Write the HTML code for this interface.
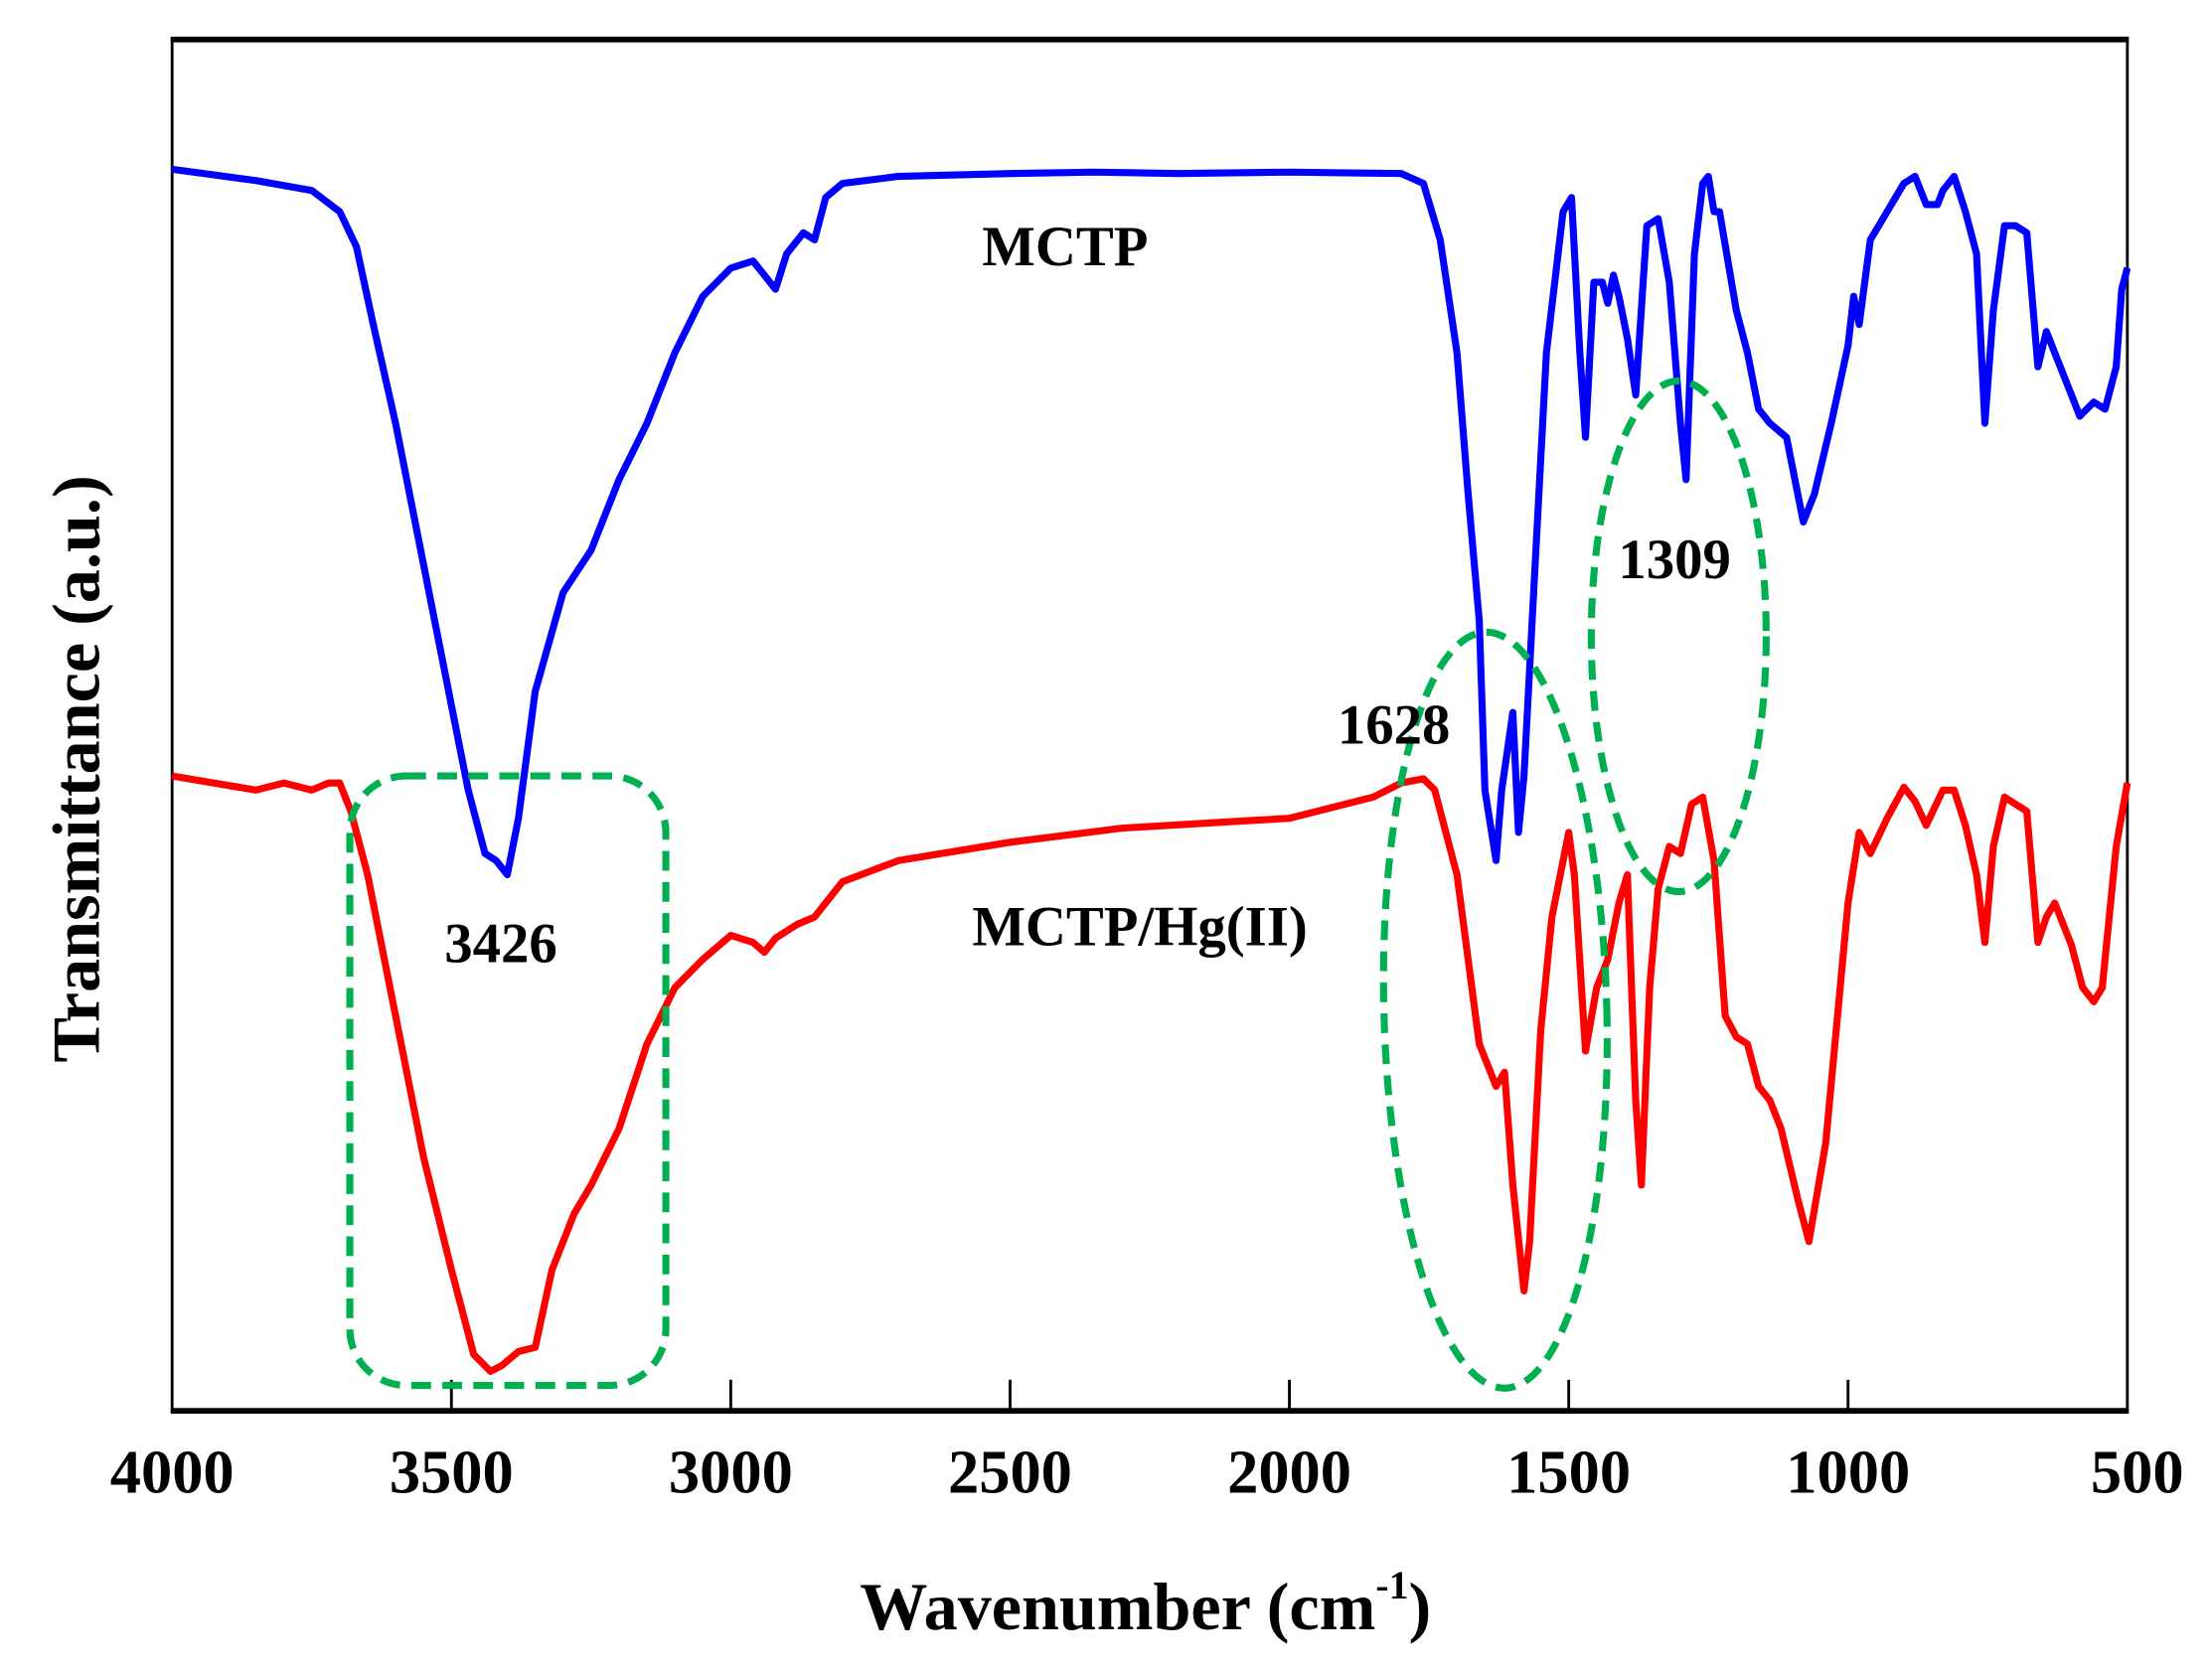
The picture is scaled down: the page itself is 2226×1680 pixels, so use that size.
<!DOCTYPE html>
<html><head><meta charset="utf-8"><style>
html,body{margin:0;padding:0;background:#fff}
svg{display:block}
text{font-family:"Liberation Serif",serif;font-weight:bold;fill:#000}
</style></head><body>
<svg id="s" width="2226" height="1680" viewBox="0 0 1568 1183" preserveAspectRatio="none" xmlns="http://www.w3.org/2000/svg">
<rect x="0" y="0" width="1568" height="1183" fill="#fff"/>
<rect x="122" y="28" width="1386" height="972" fill="none" stroke="#000" stroke-width="2"/>
<line x1="121" y1="28" x2="1509" y2="28" stroke="#000" stroke-width="4"/>
<line x1="121" y1="1000" x2="1509" y2="1000" stroke="#000" stroke-width="4"/>
<g stroke="#000" stroke-width="2">
<line x1="320" y1="1000" x2="320" y2="978"/><line x1="518" y1="1000" x2="518" y2="978"/>
<line x1="716" y1="1000" x2="716" y2="978"/><line x1="914" y1="1000" x2="914" y2="978"/>
<line x1="1112" y1="1000" x2="1112" y2="978"/><line x1="1310" y1="1000" x2="1310" y2="978"/>
</g>
<g font-size="44" text-anchor="middle">
<text x="122" y="1058">4000</text><text x="320" y="1058">3500</text><text x="518" y="1058">3000</text>
<text x="716" y="1058">2500</text><text x="914" y="1058">2000</text><text x="1112" y="1058">1500</text>
<text x="1310" y="1058">1000</text><text x="1515" y="1058">500</text>
</g>
<text x="812" y="1155" font-size="48" text-anchor="middle">Wavenumber (cm<tspan font-size="28" dy="-22">-1</tspan><tspan dy="22">)</tspan></text>
<text transform="translate(70,545) rotate(-90)" font-size="48" text-anchor="middle">Transmittance (a.u.)</text>
<polyline id="b" fill="none" stroke="#0000ff" stroke-width="5" stroke-linejoin="round"/>
<polyline id="r" fill="none" stroke="#ff0000" stroke-width="5" stroke-linejoin="round"/>
<g fill="none" stroke="#00b050" stroke-width="5" stroke-dasharray="14,8">
<rect x="248" y="550" width="224" height="432" rx="40"/>
<ellipse cx="1060" cy="716" rx="79" ry="268" transform="rotate(-1.5 1060 716)"/>
<ellipse cx="1190" cy="451" rx="62" ry="181"/>
</g>
<g font-size="40" text-anchor="middle">
<text x="755" y="188">MCTP</text>
<text x="808" y="670">MCTP/Hg(II)</text>
<text x="355" y="682">3426</text>
<text x="988" y="527">1628</text>
<text x="1187" y="410">1309</text>
</g>
</svg>
<script>
var B=[4000,120,3850,128,3750,135,3700,150,3670,175,3640,230,3600,300,3550,400,3500,500,3470,560,3440,605,3420,610,3400,620,3380,580,3350,490,3300,420,3250,390,3200,340,3150,300,3100,250,3050,210,3000,190,2960,185,2940,195,2920,205,2900,180,2870,165,2850,170,2830,140,2800,130,2700,125,2500,123,2350,122,2200,123,2000,122,1800,123,1760,130,1730,170,1700,250,1680,350,1660,440,1650,560,1630,610,1620,560,1600,505,1590,590,1580,550,1560,400,1540,250,1510,150,1495,140,1480,250,1470,310,1455,200,1440,200,1430,215,1420,195,1410,210,1395,240,1380,280,1360,160,1340,155,1320,200,1300,300,1290,340,1275,180,1260,130,1250,125,1240,150,1230,150,1200,220,1180,250,1160,290,1140,300,1110,310,1080,370,1060,350,1030,300,1000,245,990,210,980,230,960,170,930,150,900,130,880,125,860,145,840,145,830,135,810,125,790,150,770,180,755,300,740,220,720,160,700,160,680,165,660,260,645,235,630,250,600,280,585,295,560,285,540,290,520,260,510,205,500,190];
var R=[4000,550,3850,560,3800,555,3750,560,3720,555,3700,555,3680,575,3650,620,3600,720,3550,820,3500,900,3460,960,3430,972,3410,968,3380,958,3350,955,3320,900,3280,860,3250,840,3200,800,3150,740,3100,700,3050,680,3000,663,2960,668,2940,675,2920,665,2880,655,2850,650,2800,625,2700,610,2500,597,2300,587,2000,580,1850,565,1800,555,1760,552,1740,560,1700,620,1680,680,1660,740,1640,760,1630,770,1615,760,1600,840,1580,915,1570,880,1550,730,1530,650,1500,590,1490,620,1470,745,1450,700,1440,690,1430,680,1410,640,1395,620,1380,780,1370,840,1355,700,1340,630,1320,600,1300,605,1280,570,1260,565,1240,610,1220,720,1200,735,1180,740,1160,770,1140,780,1120,800,1090,850,1070,880,1040,810,1000,640,980,590,960,605,930,580,900,558,880,568,860,585,830,560,810,560,790,585,770,620,755,668,740,600,720,565,700,570,680,575,660,668,645,650,630,640,600,670,580,700,560,710,545,700,520,600,500,555];
function p(a){var s=[];for(var i=0;i<a.length;i+=2){s.push((122+(4000-a[i])*0.396).toFixed(1)+","+a[i+1]);}return s.join(" ");}
document.getElementById("b").setAttribute("points",p(B));
document.getElementById("r").setAttribute("points",p(R));
</script>
</body></html>
